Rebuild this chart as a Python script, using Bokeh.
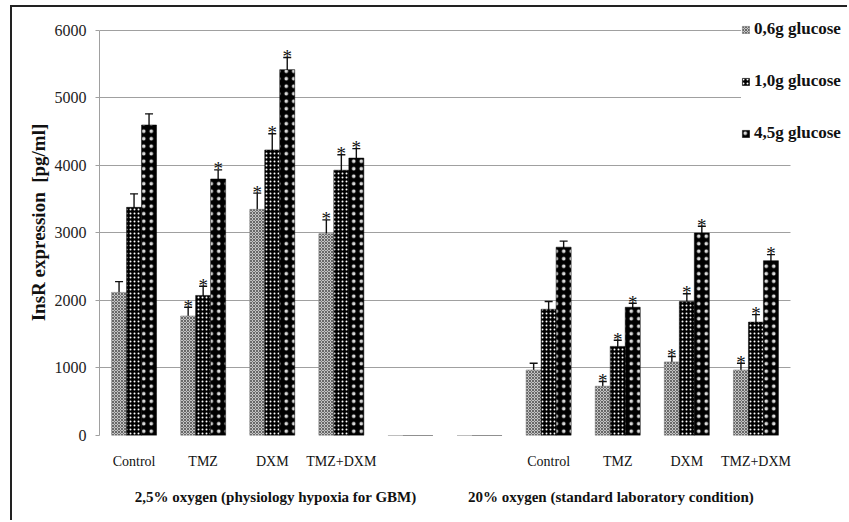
from bokeh.plotting import figure
from bokeh.models import (ColumnDataSource, Whisker, TeeHead, FixedTicker, LinearAxis,
                          Legend, LegendItem, BoxAnnotation, Range1d)
from bokeh.core.properties import value
from bokeh.embed import file_html
from bokeh.resources import INLINE

# ---- data ----
categories = ["Control", "TMZ", "DXM", "TMZ+DXM", "", "", "Control", "TMZ", "DXM", "TMZ+DXM"]
groups = ["2,5% oxygen (physiology hypoxia for GBM)", "20% oxygen (standard laboratory condition)"]
series = ["0,6g glucose", "1,0g glucose", "4,5g glucose"]

g06 = [2120, 1770, 3350, 2990, 0, 0, 970, 730, 1090, 970]
g10 = [3380, 2075, 4230, 3930, 0, 0, 1870, 1320, 1985, 1680]
g45 = [4600, 3800, 5420, 4110, 0, 0, 2790, 1900, 3000, 2590]

e06 = [160, 130, 240, 205, None, None, 100, 70, 80, 100]
e10 = [200, 135, 240, 230, None, None, 115, 90, 115, 110]
e45 = [165, 135, 180, 140, None, None, 90, 60, 100, 90]

s06 = [0, 1, 1, 1, 0, 0, 0, 1, 1, 1]
s10 = [0, 1, 1, 1, 0, 0, 0, 1, 1, 1]
s45 = [0, 1, 1, 1, 0, 0, 0, 1, 1, 1]

y_ticks = [0, 1000, 2000, 3000, 4000, 5000, 6000]

FONT = "Liberation Serif"
n_cat = len(categories)

p = figure(width=837, height=515, output_backend="svg", toolbar_location=None,
           x_range=Range1d(0.5, 11.354), y_range=Range1d(0, 6311),
           min_border_left=87, min_border_right=0, min_border_top=2, min_border_bottom=87,
           styles={"margin-left": "10px", "margin-top": "5px",
                   "border-left": "2px solid #222", "border-top": "2px solid #222"})
p.outline_line_color = None
p.background_fill_color = "white"
p.border_fill_color = "white"

# grid
p.xgrid.grid_line_color = None
p.ygrid.grid_line_color = "#a0a0a0"
p.ygrid.grid_line_width = 1
p.ygrid.ticker = FixedTicker(ticks=y_ticks)

# y axis
p.yaxis.ticker = FixedTicker(ticks=y_ticks)
p.yaxis.bounds = (0, 6000)
p.yaxis.axis_label = "InsR expression\u00a0\u00a0[pg/ml]"
p.yaxis.axis_label_text_font = FONT
p.yaxis.axis_label_text_font_style = "bold"
p.yaxis.axis_label_text_font_size = "19px"
p.yaxis.axis_label_text_color = "#111"
p.yaxis.axis_label_standoff = 3
p.yaxis.major_label_text_font = FONT
p.yaxis.major_label_text_font_size = "16px"
p.yaxis.major_label_text_color = "#222"
p.yaxis.major_label_standoff = 9
p.yaxis.axis_line_color = "#a0a0a0"
p.yaxis.major_tick_line_color = "#a0a0a0"
p.yaxis.major_tick_out = 4
p.yaxis.major_tick_in = 0
p.yaxis.minor_tick_line_color = None

# x axis (categories)
tick_pos = [i + 1 for i, c in enumerate(categories) if c]
p.xaxis.ticker = FixedTicker(ticks=tick_pos)
p.xaxis.major_label_overrides = {i + 1: c for i, c in enumerate(categories) if c}
p.xaxis.major_label_text_font = FONT
p.xaxis.major_label_text_font_size = "14px"
p.xaxis.major_label_text_color = "#111"
p.xaxis.major_label_standoff = 12
p.xaxis.axis_line_color = None
p.xaxis.major_tick_line_color = None
p.xaxis.minor_tick_line_color = None

# group axis
gaxis = LinearAxis(ticker=FixedTicker(ticks=[3.05, 7.9]),
                   major_label_overrides={3.05: groups[0], 7.9: groups[1]})
gaxis.major_label_text_font = FONT
gaxis.major_label_text_font_style = "bold"
gaxis.major_label_text_font_size = "15px"
gaxis.major_label_text_color = "#111"
gaxis.major_label_standoff = 11
gaxis.axis_line_color = None
gaxis.major_tick_line_color = None
gaxis.minor_tick_line_color = None
p.add_layout(gaxis, "below")

# hide grid beyond the last category slot
p.add_layout(BoxAnnotation(left=n_cat + 0.5, fill_color="white", fill_alpha=1,
                           line_alpha=0, level="underlay"))

# bars
w = 0.217
offsets = [-w, 0, w]
vals = [g06, g10, g45]
errs = [e06, e10, e45]
sigs = [s06, s10, s45]
styles = [
    dict(fill_color="#c4c4c4", line_color="#808080", line_width=0.6,
         hatch_pattern="diagonal_cross", hatch_color="#505050", hatch_scale=3, hatch_weight=0.8),
    dict(fill_color="black", line_color="black", line_width=0.5,
         hatch_pattern="dot", hatch_color="white", hatch_scale=4, hatch_weight=1),
    dict(fill_color="black", line_color="black", line_width=0.5,
         hatch_pattern="dot", hatch_color="white", hatch_scale=7.5, hatch_weight=0.4,
         hatch_alpha=0.85),
]

renderers = []
for k in range(3):
    xs = [i + 1 + offsets[k] for i in range(n_cat)]
    src = ColumnDataSource(dict(x=xs, top=vals[k]))
    r = p.vbar(x="x", top="top", width=w, bottom=0, source=src, **styles[k])
    renderers.append(r)

    idx = [i for i in range(n_cat) if errs[k][i] is not None]
    esrc = ColumnDataSource(dict(x=[xs[i] for i in idx],
                                 upper=[vals[k][i] + errs[k][i] for i in idx],
                                 lower=[vals[k][i] - errs[k][i] for i in idx]))
    wh = Whisker(base="x", upper="upper", lower="lower", source=esrc,
                 line_color="#111", line_width=1.4,
                 upper_head=TeeHead(size=8, line_color="#111", line_width=1.4),
                 lower_head=TeeHead(size=8, line_color="#111", line_width=1.4))
    p.add_layout(wh)

    sidx = [i for i in range(n_cat) if sigs[k][i]]
    p.text(x=[xs[i] for i in sidx], y=[vals[k][i] + errs[k][i] for i in sidx],
           text=["*"] * len(sidx), text_align="center", text_baseline="alphabetic",
           y_offset=-1, text_font=value(FONT), text_font_size="19px", text_color="#111")

legend = Legend(items=[LegendItem(label=series[k], renderers=[renderers[k]]) for k in range(3)],
                location=(642, 292), orientation="vertical")
legend.label_text_font = FONT
legend.label_text_font_style = "bold"
legend.label_text_font_size = "17px"
legend.label_text_color = "#111"
legend.glyph_width = 9
legend.glyph_height = 9
legend.label_height = 18
legend.label_standoff = 4
legend.spacing = 32
legend.padding = 4
legend.margin = 0
legend.border_line_color = None
legend.background_fill_color = "white"
legend.background_fill_alpha = 1
p.add_layout(legend)

open("out.html", "w").write(file_html(p, INLINE))
